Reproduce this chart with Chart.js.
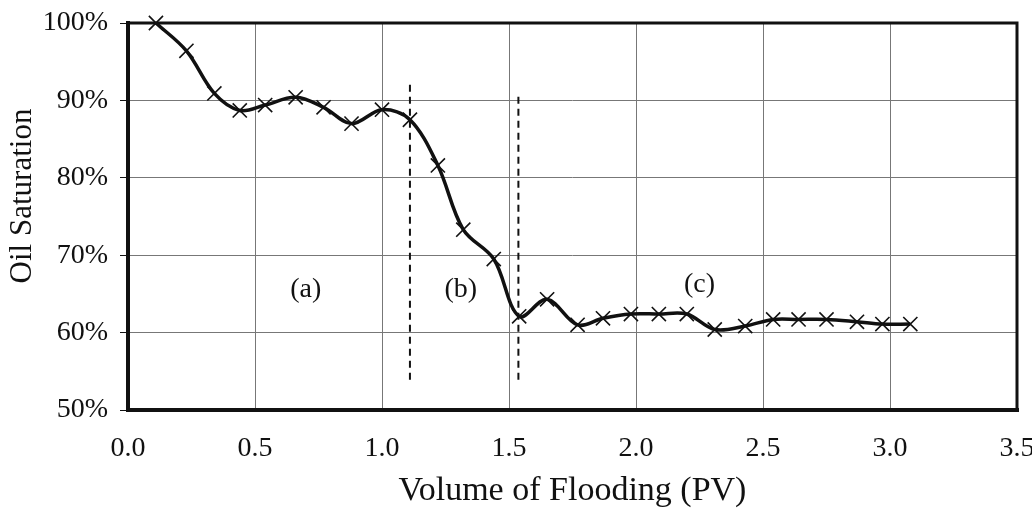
<!DOCTYPE html>
<html>
<head>
<meta charset="utf-8">
<script src="https://cdn.jsdelivr.net/npm/chart.js@4.4.1/dist/chart.umd.min.js"></script>
<style>
  html, body { margin: 0; padding: 0; background: #fff; }
  #wrap { width: 1032px; height: 508px; }
</style>
</head>
<body>
<div id="wrap"><canvas id="c" width="1032" height="508"></canvas></div>
<script>
// flooding volume (PV) and oil saturation (%)
var pvValues = [0.11, 0.23, 0.34, 0.44, 0.54, 0.66, 0.77, 0.88, 1.00, 1.11, 1.22, 1.32, 1.44, 1.54,
	1.65, 1.77, 1.87, 1.98, 2.09, 2.20, 2.31, 2.43, 2.54, 2.64, 2.75, 2.87, 2.97, 3.08];
var saturation = [100.0, 96.4, 90.9, 88.7, 89.4, 90.4, 89.1, 87.0, 88.8, 87.5, 81.6, 73.3, 69.5, 62.1,
	64.3, 61.0, 61.85, 62.4, 62.4, 62.4, 60.4, 60.85, 61.7, 61.7, 61.7, 61.4, 61.1, 61.1];

// stage separators (dashed) : x, bottom, top
var dividerX = [1.11, 1.537];
var dividerBottom = [53.9, 53.9];
var dividerTop = [92.6, 90.7];

// stage labels
var stageText = ['(a)', '(b)', '(c)'];
var stageX = [0.70, 1.31, 2.25];
var stageY = [65.6, 65.6, 66.2];

var xTicks = [0, 0.5, 1.0, 1.5, 2.0, 2.5, 3.0, 3.5];
var yTicks = [50, 60, 70, 80, 90, 100];

var serif = '"Liberation Serif", "Times New Roman", serif';

var points = pvValues.map(function(x, i) { return { x: x, y: saturation[i] }; });

var datasets = [{
	data: points,
	showLine: true,
	clip: false,
	borderColor: '#111',
	borderWidth: 3.5,
	tension: 0.35,
	pointStyle: 'crossRot',
	pointRadius: 10,
	pointBorderWidth: 1.6,
	pointBorderColor: '#111',
	order: 0
}];

dividerX.forEach(function(x, i) {
	datasets.push({
		data: [{ x: x, y: dividerBottom[i] }, { x: x, y: dividerTop[i] }],
		showLine: true,
		borderColor: '#111',
		borderWidth: 2,
		borderDash: [7, 5],
		pointRadius: 0,
		order: 1
	});
});

var frame = {
	id: 'frame',
	beforeDatasetsDraw: function(chart) {
		var a = chart.chartArea, ctx = chart.ctx;
		ctx.save();
		ctx.strokeStyle = '#111';
		ctx.lineCap = 'square';
		ctx.lineWidth = 3;
		ctx.beginPath();
		ctx.moveTo(a.left, a.top); ctx.lineTo(a.right, a.top); ctx.lineTo(a.right, a.bottom);
		ctx.stroke();
		ctx.lineWidth = 4;
		ctx.beginPath();
		ctx.moveTo(a.left, a.top); ctx.lineTo(a.left, a.bottom); ctx.lineTo(a.right, a.bottom);
		ctx.stroke();

		// y axis title, sits a bit above the middle like the original
		ctx.fillStyle = '#111';
		ctx.font = '31px ' + serif;
		ctx.textAlign = 'center';
		ctx.textBaseline = 'middle';
		ctx.translate(23, 196);
		ctx.rotate(-Math.PI / 2);
		ctx.fillText('Oil Saturation', 0, 0);
		ctx.restore();
	},
	afterDatasetsDraw: function(chart) {
		var ctx = chart.ctx, xs = chart.scales.x, ys = chart.scales.y;
		ctx.save();
		ctx.fillStyle = '#111';
		ctx.font = '28px ' + serif;
		ctx.textAlign = 'center';
		ctx.textBaseline = 'middle';
		stageText.forEach(function(t, i) {
			ctx.fillText(t, xs.getPixelForValue(stageX[i]), ys.getPixelForValue(stageY[i]));
		});
		ctx.restore();
	}
};

new Chart(document.getElementById('c').getContext('2d'), {
	type: 'scatter',
	data: { datasets: datasets },
	options: {
		responsive: false,
		animation: false,
		layout: { padding: { top: 23, right: 15, left: 0, bottom: 0 } },
		plugins: {
			legend: { display: false },
			tooltip: { enabled: false }
		},
		scales: {
			x: {
				type: 'linear',
				min: 0,
				max: 3.5,
				afterBuildTicks: function(s) { s.ticks = xTicks.map(function(v) { return { value: v }; }); },
				afterFit: function(s) { s.height = 98; s.paddingRight = 0; s.paddingLeft = 0; },
				grid: { color: '#777', lineWidth: 1, drawTicks: false },
				border: { display: false },
				ticks: {
					color: '#111',
					padding: 22,
					font: { family: serif, size: 28 },
					maxRotation: 0,
					callback: function(v) { return v.toFixed(1); }
				},
				title: {
					display: true,
					text: 'Volume of Flooding (PV)',
					color: '#111',
					font: { family: serif, size: 34 },
					padding: { top: 0, bottom: -3 }
				}
			},
			y: {
				min: 50,
				max: 100,
				afterBuildTicks: function(s) { s.ticks = yTicks.map(function(v) { return { value: v }; }); },
				afterFit: function(s) { s.width = 128; s.paddingTop = 0; s.paddingBottom = 0; },
				grid: { color: '#777', lineWidth: 1, drawTicks: true, tickLength: 8, tickColor: '#111' },
				border: { display: false },
				ticks: {
					color: '#111',
					padding: 12,
					font: { family: serif, size: 28 },
					callback: function(v) { return v + '%'; }
				}
			}
		}
	},
	plugins: [frame]
});
</script>
</body>
</html>
